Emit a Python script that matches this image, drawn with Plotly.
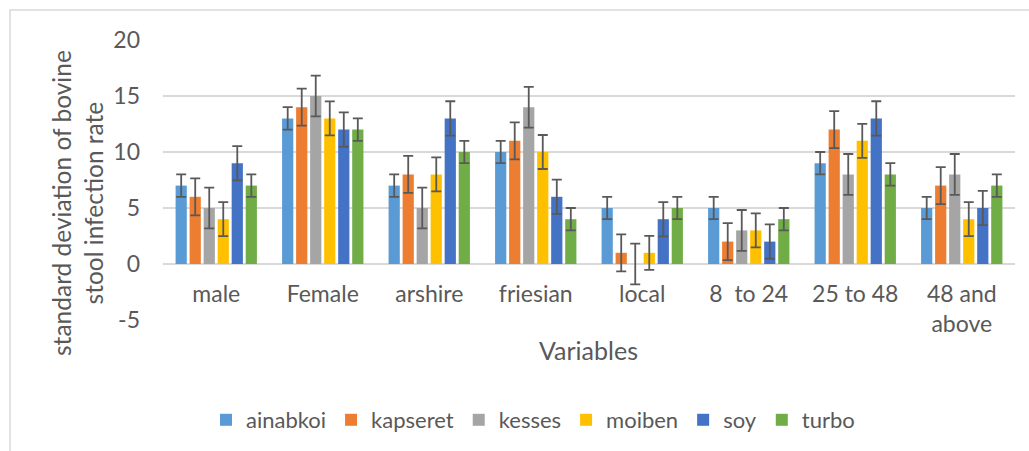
import plotly.graph_objects as go

categories = ["male", "Female", "arshire", "friesian", "local", "8\u00a0 to 24", "25 to 48", "48 and<br>above"]
series_names = ["ainabkoi", "kapseret", "kesses", "moiben", "soy", "turbo"]
ainabkoi = [7, 13, 7, 10, 5, 5, 9, 5]
kapseret = [6, 14, 8, 11, 1, 2, 12, 7]
kesses = [5, 15, 5, 14, 0, 3, 8, 8]
moiben = [4, 13, 8, 10, 1, 3, 11, 4]
soy = [9, 12, 13, 6, 4, 2, 13, 5]
turbo = [7, 12, 10, 4, 5, 4, 8, 7]
error_amounts = [1.0, 1.65, 1.82, 1.52, 1.53, 1.0]
colors = ["#5B9BD5", "#ED7D31", "#A5A5A5", "#FFC000", "#4472C4", "#70AD47"]
y_tick_vals = [-5, 0, 5, 10, 15, 20]
y_tick_text = ["-5", "0", "5", "10", "15", "20"]

values = [ainabkoi, kapseret, kesses, moiben, soy, turbo]

FONT = "Lato"
GRAY = "#595959"
GRID = "#d9d9d9"

fig = go.Figure()
for name, vals, err, col in zip(series_names, values, error_amounts, colors):
    fig.add_trace(go.Bar(
        name=name, x=categories, y=vals, marker=dict(color=col, line=dict(width=0)),
        error_y=dict(type="constant", value=err, color=GRAY, thickness=1.8, width=5),
    ))

# plot area: x 163..1015, y 40..320
L, R, T, B = 163, 1029 - 1015, 40, 451 - 320
PW, PH = 1029 - L - R, 451 - T - B

def px(xp):
    return (xp - L) / PW

def py(yp):
    return (T + PH - yp) / PH

fig.update_layout(
    width=1029, height=451,
    margin=dict(l=L, r=R, t=T, b=B, autoexpand=False),
    paper_bgcolor="white", plot_bgcolor="white",
    barmode="group", bargap=0.21, bargroupgap=0.2,
    font=dict(family=FONT, color=GRAY, size=23),
    showlegend=True,
    legend=dict(orientation="h", x=px(533), xanchor="center", y=py(420), yanchor="middle",
                font=dict(family=FONT, size=22, color=GRAY), itemwidth=30,
                traceorder="normal"),
    xaxis=dict(range=[-0.5, 7.5], anchor="free", position=py(264), showline=False,
               showgrid=False, ticks="", tickfont=dict(family=FONT, size=23, color=GRAY),
               ticklabelstandoff=14),
    yaxis=dict(range=[-5, 20], tickmode="array", tickvals=y_tick_vals, ticktext=y_tick_text,
               showgrid=True, gridcolor=GRID, gridwidth=1.5,
               zeroline=False, showline=False, ticks="",
               tickfont=dict(family=FONT, size=23, color=GRAY), ticklabelstandoff=22),
    annotations=[
        dict(text="standard deviation of bovine<br>stool infection rate", textangle=-90,
             xref="paper", yref="paper", x=px(78), y=py(203), xanchor="center", yanchor="middle",
             showarrow=False, font=dict(family=FONT, size=24.5, color=GRAY)),
        dict(text="Variables", xref="paper", yref="paper", x=px(588), y=py(350),
             xanchor="center", yanchor="middle", showarrow=False,
             font=dict(family=FONT, size=25, color=GRAY)),
    ],
    shapes=[
        dict(type="rect", xref="paper", yref="paper", x0=px(10), x1=px(1040), y0=py(470), y1=py(10),
             line=dict(color=GRID, width=1.5), layer="below"),
    ],
)

fig.write_html("out.html", config={"displayModeBar": False},
               post_script="document.body.style.margin='0px';document.body.style.overflow='hidden';")
